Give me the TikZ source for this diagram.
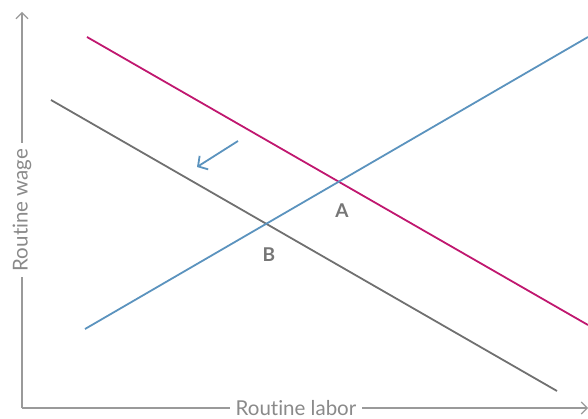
\documentclass[tikz,border=0pt]{standalone}
\usepackage{fontspec}
\setmainfont{Lato}[Ligatures=NoCommon]
\usetikzlibrary{arrows.meta}
\definecolor{mag}{HTML}{C0176F}
\definecolor{blu}{HTML}{5B93BE}
\definecolor{gline}{HTML}{707070}
\definecolor{axc}{HTML}{9A9A9A}
\definecolor{txc}{HTML}{8A8A8A}
\definecolor{lbc}{HTML}{767676}
\begin{document}
\begin{tikzpicture}[x=1pt,y=-1pt,
  axis/.style={draw=axc,line width=1.1pt},
  curve/.style={line width=1.8pt},
  axlabel/.style={text=txc,font=\fontsize{20.5}{20.5}\selectfont,fill=white,inner xsep=6pt,inner ysep=3pt},
  ptlabel/.style={text=lbc,font=\bfseries\fontsize{19}{19}\selectfont,inner sep=0pt}]
\useasboundingbox (0,0) rectangle (588,419);
\coordinate (O) at (22,408);
\coordinate (Ytop) at (22,12);
\coordinate (Xend) at (588,408);
\draw[axis,-{Straight Barb[length=6pt,width=12pt]}] (O) -- (Ytop);
\draw[axis,-{Straight Barb[length=6pt,width=12pt]}] (O) -- (Xend);
\node[axlabel,rotate=90] (ylab) at (22,210) {Routine wage};
\node[axlabel] (xlab) at (296,408) {Routine labor};
\coordinate (m1) at (87,37); \coordinate (m2) at (588,325);
\coordinate (b1) at (85,329); \coordinate (b2) at (588,37);
\coordinate (g1) at (51,100); \coordinate (g2) at (557,391);
\draw[curve,gline] (g1) -- (g2);
\draw[curve,mag] (m1) -- (m2);
\draw[curve,blu] (b1) -- (b2);
\coordinate (a1) at (238,141); \coordinate (a2) at (197,167);
\draw[curve,blu,-{Straight Barb[length=7pt,width=16pt]}] (a1) -- (a2);
\node[ptlabel] (A) at (342,211) {A};
\node[ptlabel] (B) at (269,255) {B};
\end{tikzpicture}
\end{document}
